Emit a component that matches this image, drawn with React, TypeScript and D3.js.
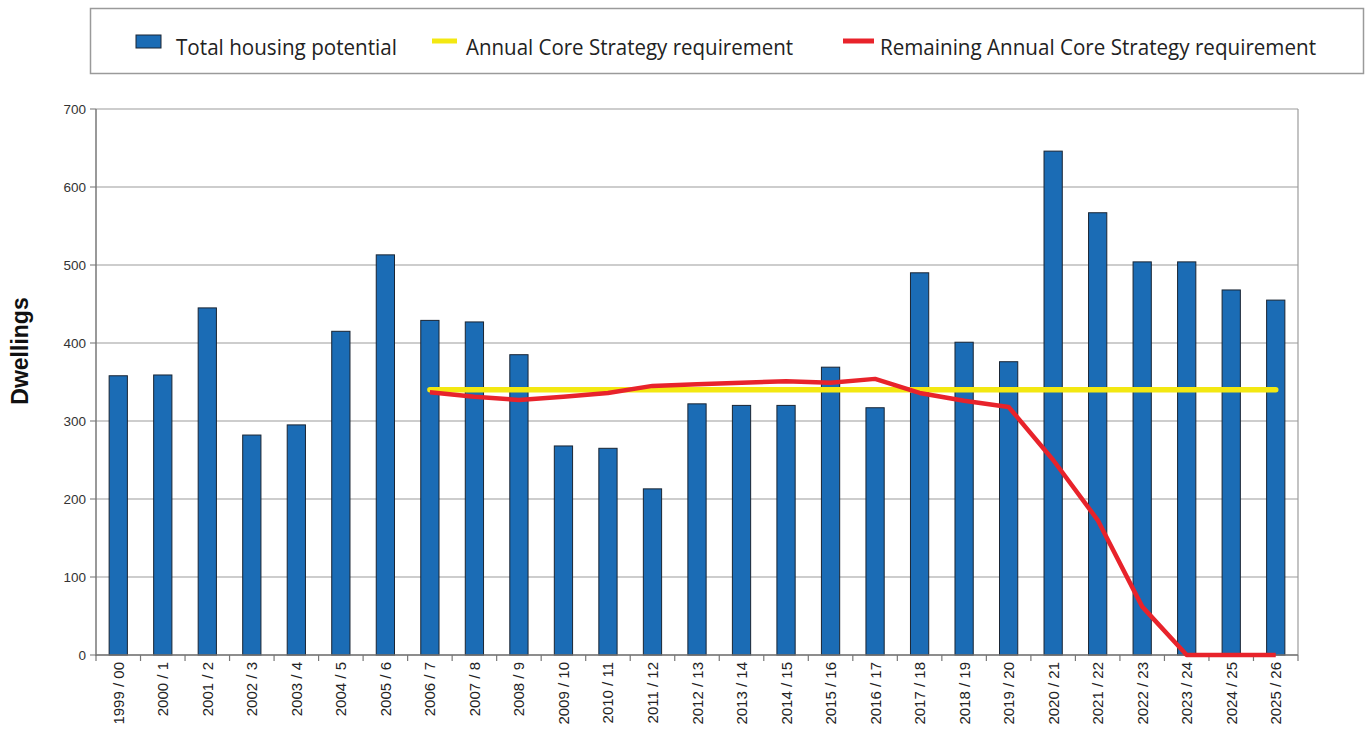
import React from 'react';
import * as d3 from 'd3';

const years = [
  '1999 / 00', '2000 / 1', '2001 / 2', '2002 / 3', '2003 / 4', '2004 / 5', '2005 / 6',
  '2006 / 7', '2007 / 8', '2008 / 9', '2009 / 10', '2010 / 11', '2011 / 12', '2012 / 13',
  '2013 / 14', '2014 / 15', '2015 / 16', '2016 / 17', '2017 / 18', '2018 / 19', '2019 / 20',
  '2020 / 21', '2021 / 22', '2022 / 23', '2023 / 24', '2024 / 25', '2025 / 26',
];

const housingPotential = [
  358, 359, 445, 282, 295, 415, 513, 429, 427, 385, 268, 265, 213, 322,
  320, 320, 369, 317, 490, 401, 376, 646, 567, 504, 504, 468, 455,
];

// lines start at 2006 / 7
const lineYears = years.slice(7);
const annualRequirement = lineYears.map(() => 340);
const remainingRequirement = [
  337, 331, 327, 331, 336, 345, 347, 349, 351, 349, 354, 336, 326, 318, 250, 173, 62, 0, 0, 0,
];

const yTicks = [0, 100, 200, 300, 400, 500, 600, 700];

const legendItems = [
  { label: 'Total housing potential', kind: 'bar', x: 136, tx: 176, tw: 221 },
  { label: 'Annual Core Strategy requirement', kind: 'yellow', x: 432, tx: 466, tw: 327 },
  { label: 'Remaining Annual Core Strategy requirement', kind: 'red', x: 843, tx: 880, tw: 436 },
];

const W = 1371;
const H = 733;
const left = 96;
const right = 1298;
const top = 109;
const bottom = 655;

export default function App() {
  const x = d3.scaleBand<string>().domain(years).range([left, right]).paddingInner(0.59).paddingOuter(0.295);
  const band = d3.scaleBand<string>().domain(years).range([left, right]);
  const y = d3.scaleLinear().domain([0, 700]).range([bottom, top]);

  const center = (d: string) => (band(d) as number) + band.bandwidth() / 2;

  const yellowLine = d3.line<number>()
    .x((_, i) => center(lineYears[i]))
    .y(d => y(d));
  const redLine = d3.line<number>()
    .x((_, i) => center(lineYears[i]))
    .y(d => y(d));

  const font = 'Arial, "Liberation Sans", Helvetica, sans-serif';
  const legendFont = '"Liberation Sans Narrow", "Open Sans", Arial, sans-serif';

  return (
    <svg width={W} height={H} style={{ position: 'absolute', left: 0, top: 0, background: '#fff' }}>
      {/* legend */}
      <rect x={90.5} y={8.5} width={1273} height={65} fill="#fff" stroke="#9a9a9a" strokeWidth={1.5} />
      {legendItems.map(it => (
        <g key={it.label}>
          {it.kind === 'bar' && (
            <rect x={it.x} y={35} width={25} height={13} fill="#1b6cb5" stroke="#1a2533" strokeWidth={1} />
          )}
          {it.kind === 'yellow' && (
            <line x1={it.x} x2={it.x + 25} y1={41} y2={41} stroke="#f3e812" strokeWidth={5} />
          )}
          {it.kind === 'red' && (
            <line x1={it.x} x2={it.x + 31} y1={41} y2={41} stroke="#e8232b" strokeWidth={5} />
          )}
          <text x={it.tx} y={55} fontSize={21} fontFamily={legendFont} fill="#222"
            textLength={it.tw} lengthAdjust="spacingAndGlyphs">{it.label}</text>
        </g>
      ))}

      {/* grid */}
      {yTicks.map(t => (
        <g key={t}>
          <line x1={left} x2={right} y1={y(t)} y2={y(t)} stroke="#9c9c9c" strokeWidth={1.2} />
          <line x1={left - 6} x2={left} y1={y(t)} y2={y(t)} stroke="#888" strokeWidth={1.2} />
          <text x={left - 10} y={y(t) + 5} textAnchor="end" fontSize={13.5} fontFamily={font} fill="#333">{t}</text>
        </g>
      ))}
      <line x1={right} x2={right} y1={top} y2={bottom} stroke="#9c9c9c" strokeWidth={1.2} />
      <line x1={left} x2={left} y1={top} y2={bottom + 1} stroke="#777" strokeWidth={1.5} />

      {/* bars */}
      {years.map((d, i) => (
        <rect key={d} x={x(d)} y={y(housingPotential[i])} width={x.bandwidth()}
          height={y(0) - y(housingPotential[i])} fill="#1b6cb5" stroke="#1a2533" strokeWidth={1} />
      ))}

      {/* x axis */}
      <line x1={left} x2={right} y1={bottom} y2={bottom} stroke="#777" strokeWidth={1.5} />
      {years.concat(['end']).map((d, i) => (
        <line key={'t' + i} x1={left + i * band.bandwidth()} x2={left + i * band.bandwidth()}
          y1={bottom} y2={bottom + 6} stroke="#777" strokeWidth={1.2} />
      ))}
      {years.map(d => (
        <text key={'l' + d} transform={`translate(${center(d) + 5.5},662) rotate(-90)`} textAnchor="end"
          fontSize={15} fontFamily={font} fill="#222">{d}</text>
      ))}

      {/* lines */}
      <path d={yellowLine(annualRequirement) as string} fill="none" stroke="#f3e812" strokeWidth={5.5} strokeLinecap="round" />
      <path d={redLine(remainingRequirement) as string} fill="none" stroke="#e8232b" strokeWidth={4.5} strokeLinejoin="round" />

      {/* y label */}
      <text transform="translate(28,351) rotate(-90)" textAnchor="middle" fontSize={23} fontWeight="bold"
        fontFamily={font} fill="#111">Dwellings</text>
    </svg>
  );
}
